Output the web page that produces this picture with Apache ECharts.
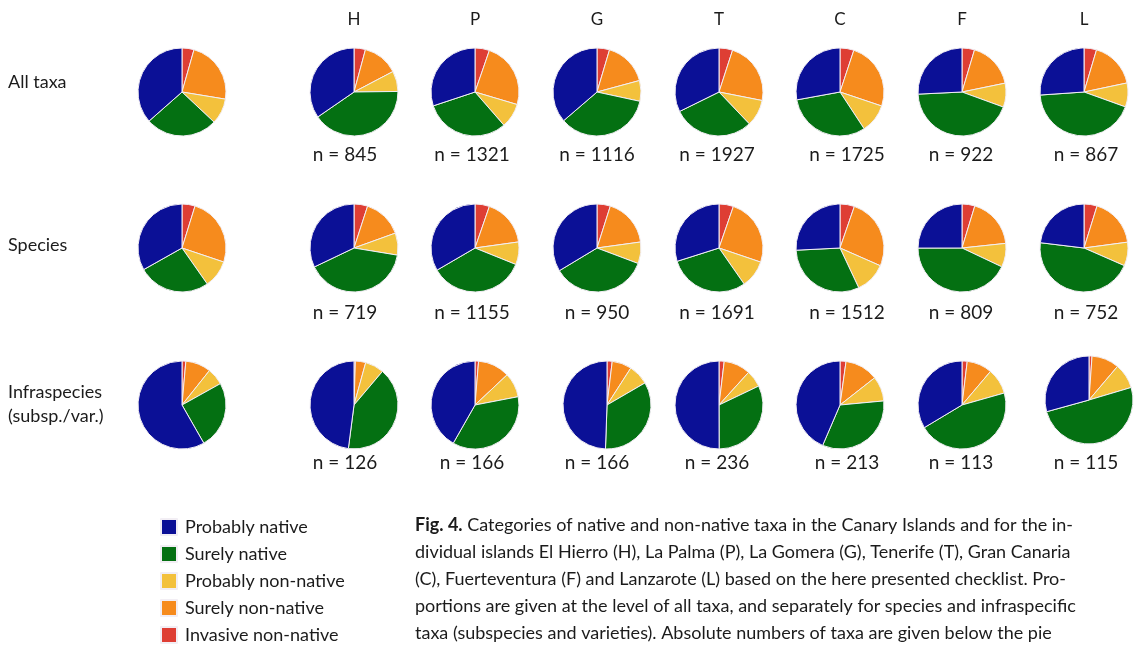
<!DOCTYPE html>
<html>
<head>
<meta charset="utf-8">
<script src="https://cdn.jsdelivr.net/npm/echarts@6/dist/echarts.min.js"></script>
<style>
html,body{margin:0;padding:0;background:#fff;}
#chart{width:1135px;height:647px;}
</style>
</head>
<body>
<div id="chart"></div>
<script>
// ---- data ----
const islands = ['H', 'P', 'G', 'T', 'C', 'F', 'L'];
// slice order, clockwise from 12 o'clock
const categories = ['Invasive non-native', 'Surely non-native', 'Probably non-native', 'Surely native', 'Probably native'];
const legendOrder = ['Probably native', 'Surely native', 'Probably non-native', 'Surely non-native', 'Invasive non-native'];
const rowLabels = ['All taxa', 'Species', 'Infraspecies\n(subsp./var.)'];

// percentages per column: [Canary Islands total, H, P, G, T, C, F, L]
const allTaxa = [
  [4.4, 23.2, 9.4, 26.5, 36.5],
  [4.2, 13.1, 7.5, 40.6, 34.6],
  [5.3, 24.3, 9.0, 31.3, 30.1],
  [4.6, 16.2, 7.6, 35.3, 36.3],
  [5.0, 23.1, 9.8, 29.8, 32.3],
  [5.1, 25.1, 10.6, 31.4, 27.9],
  [4.6, 17.2, 8.8, 43.7, 25.8],
  [4.6, 17.1, 8.8, 43.4, 26.1]
];
const species = [
  [4.8, 25.4, 10.1, 26.6, 33.2],
  [5.0, 14.5, 8.1, 40.3, 32.1],
  [5.3, 17.5, 8.3, 35.5, 33.4],
  [4.9, 17.9, 7.9, 35.6, 33.6],
  [5.3, 24.9, 10.1, 29.8, 29.9],
  [5.3, 26.3, 11.4, 31.2, 25.8],
  [4.7, 18.6, 8.7, 42.9, 25.0],
  [4.8, 18.1, 8.7, 45.4, 23.1]
];
const infraspecies = [
  [1.4, 9.3, 6.2, 24.8, 58.2],
  [0.5, 3.8, 6.9, 40.9, 48.0],
  [1.3, 11.7, 9.0, 36.3, 41.8],
  [1.9, 7.2, 7.5, 33.9, 49.4],
  [1.9, 9.8, 6.2, 32.0, 50.0],
  [2.2, 12.2, 9.1, 32.9, 43.5],
  [1.9, 9.3, 9.4, 45.8, 33.6],
  [1.1, 10.1, 9.2, 50.3, 29.3]
];
const nAll = [845, 1321, 1116, 1927, 1725, 922, 867];
const nSpecies = [719, 1155, 950, 1691, 1512, 809, 752];
const nInfra = [126, 166, 166, 236, 213, 113, 115];

const captionLines = [
  ['Fig. 4.', ' Categories of native and non-native taxa in the Canary Islands and for the in-'],
  ['', 'dividual islands El Hierro (H), La Palma (P), La Gomera (G), Tenerife (T), Gran Canaria'],
  ['', '(C), Fuerteventura (F) and Lanzarote (L) based on the here presented checklist. Pro-'],
  ['', 'portions are given at the level of all taxa, and separately for species and infraspecific'],
  ['', 'taxa (subspecies and varieties). Absolute numbers of taxa are given below the pie']
];

// ---- layout & style ----
const colors = {
  'Invasive non-native': '#de3e34',
  'Surely non-native': '#f68b1d',
  'Probably non-native': '#f3c13c',
  'Surely native': '#047012',
  'Probably native': '#0b1096'
};
const FONT = 'Lato';
const TXT = '#1b1b1b';
const colX = [182, 354, 475, 597, 719, 840, 962, 1084];
const rowY = [92, 248, 405];
const centerOverride = { '2-3': [607, 405], '2-7': [1089, 400] };
const nLabelX = [345, 472, 597, 717, 847, 961, 1086];
const nLabelY = [155, 313, 463];
const RADIUS = 44;

const rows = [allTaxa, species, infraspecies];
const nRows = [nAll, nSpecies, nInfra];

const series = [];
rows.forEach((row, r) => {
  row.forEach((vals, c) => {
    const center = centerOverride[r + '-' + c] || [colX[c], rowY[r]];
    series.push({
      type: 'pie',
      center: center,
      radius: RADIUS,
      startAngle: 90,
      clockwise: true,
      silent: true,
      animation: false,
      label: { show: false },
      labelLine: { show: false },
      emphasis: { disabled: true },
      itemStyle: { borderColor: '#f2eef4', borderWidth: 1 },
      data: categories.map((name, i) => ({ name: name, value: vals[i], itemStyle: { color: colors[name] } }))
    });
  });
});

const graphics = [];
islands.forEach((isl, i) => {
  graphics.push({ type: 'text', x: colX[i + 1], y: 20, style: { text: isl, font: '17px ' + FONT, fill: TXT, textAlign: 'center', textVerticalAlign: 'middle' } });
});
const rowLabelY = [82, 245, 404];
rowLabels.forEach((t, r) => {
  graphics.push({ type: 'text', x: 8, y: rowLabelY[r], style: { text: t, font: '18px ' + FONT, fill: TXT, textAlign: 'left', textVerticalAlign: 'middle', lineHeight: 24 } });
});
nRows.forEach((ns, r) => {
  ns.forEach((n, i) => {
    graphics.push({ type: 'text', x: nLabelX[i], y: nLabelY[r], style: { text: 'n = ' + n, font: '19px ' + FONT, fill: TXT, textAlign: 'center', textVerticalAlign: 'middle' } });
  });
});
const capY = [525, 552, 579, 606, 633];
captionLines.forEach((ln, k) => {
  graphics.push({
    type: 'text', x: 415, y: capY[k],
    style: {
      text: (ln[0] ? '{b|' + ln[0] + '}' : '') + '{n|' + ln[1] + '}',
      textAlign: 'left', textVerticalAlign: 'middle',
      rich: {
        b: { font: 'bold 18px ' + FONT, fill: TXT },
        n: { font: '18px ' + FONT, fill: TXT }
      }
    }
  });
});

const chart = echarts.init(document.getElementById('chart'), null, { renderer: 'canvas' });
chart.setOption({
  backgroundColor: '#ffffff',
  animation: false,
  legend: {
    data: legendOrder,
    orient: 'vertical',
    left: 160,
    top: 518,
    height: 180,
    padding: 0,
    icon: 'rect',
    itemWidth: 16,
    itemHeight: 16,
    itemGap: 9,
    selectedMode: false,
    textStyle: { fontFamily: FONT, fontSize: 18, lineHeight: 16, color: TXT, padding: [0, 0, 0, 3] }
  },
  series: series,
  graphic: graphics
});
</script>
</body>
</html>
